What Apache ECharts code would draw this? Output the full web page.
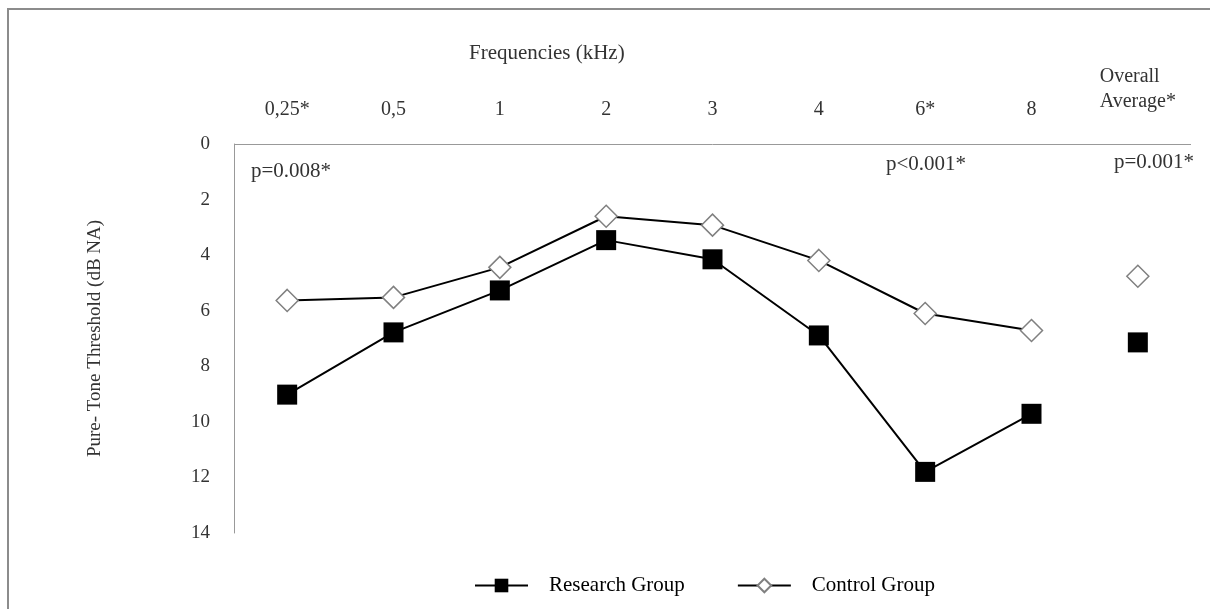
<!DOCTYPE html>
<html><head><meta charset="utf-8">
<script src="https://cdn.jsdelivr.net/npm/echarts@6/dist/echarts.min.js"></script>
<style>html,body{margin:0;padding:0;background:#fff}#c{width:1210px;height:609px}</style>
</head><body><div id="c"></div>
<script>
var categories = ['0,25*', '0,5', '1', '2', '3', '4', '6*', '8', 'Overall\nAverage*'];
var researchFreq = [9.02, 6.78, 5.27, 3.46, 4.15, 6.89, 11.8, 9.71];
var controlFreq  = [5.63, 5.52, 4.44, 2.60, 2.92, 4.19, 6.10, 6.71];
var researchOverall = 7.14;
var controlOverall = 4.76;
var yTicks = [0, 2, 4, 6, 8, 10, 12, 14];

var FONT = 'Liberation Serif';
var overallIdx = categories.length - 1;
function overallData(v){ var a = []; for (var i=0;i<overallIdx;i++) a.push(null); a.push(v); return a; }

var chart = echarts.init(document.getElementById('c'));
chart.setOption({
  animation: false,
  backgroundColor: '#fff',
  textStyle: { fontFamily: FONT },
  grid: { left: 234, right: 19, top: 144, bottom: 76, containLabel: false },
  xAxis: {
    type: 'category', position: 'top', data: categories, boundaryGap: true,
    axisLine: { show: false },
    axisTick: { show: false },
    axisLabel: {
      color: '#333', fontSize: 20, fontFamily: FONT, margin: 24, interval: 0,
      formatter: function (v, i) { return i === overallIdx ? '{ov|' + v + '}' : v; },
      rich: { ov: { fontSize: 20, fontFamily: FONT, color: '#333', lineHeight: 25, padding: [0, 0, 12, 0], align: 'left' } }
    }
  },
  yAxis: {
    type: 'value', inverse: true, min: yTicks[0], max: yTicks[yTicks.length-1], interval: 2,
    name: 'Pure- Tone Threshold (dB NA)', nameLocation: 'middle', nameGap: 129,
    nameTextStyle: { color: '#333', fontSize: 19, fontFamily: FONT },
    axisLine: { show: true, lineStyle: { color: '#999', width: 1 } },
    axisTick: { show: false },
    splitLine: { show: false },
    axisLabel: { color: '#333', fontSize: 19, fontFamily: FONT, margin: 24 }
  },
  legend: {
    bottom: 8, left: 469, itemWidth: 53, itemHeight: 17, itemGap: 52,
    textStyle: { color: '#000', fontSize: 21, fontFamily: FONT, padding: [0, 0, 0, 16] },
    data: ['Research Group', 'Control Group']
  },
  title: {
    text: 'Frequencies (kHz)', left: 464, top: 38,
    textStyle: { color: '#333', fontSize: 21, fontWeight: 'normal', fontFamily: FONT }
  },
  graphic: [
    { type: 'rect', shape: { x: 8, y: 9, width: 1400, height: 800 }, style: { fill: 'none', stroke: '#8c8c8c', lineWidth: 2 }, z: 100 },
    { type: 'text', left: 251, top: 161, style: { text: 'p=0.008*', fontSize: 21, fontFamily: FONT, fill: '#333' } },
    { type: 'text', left: 886, top: 154, style: { text: 'p<0.001*', fontSize: 21, fontFamily: FONT, fill: '#333' } },
    { type: 'text', left: 1114, top: 152, style: { text: 'p=0.001*', fontSize: 21, fontFamily: FONT, fill: '#333' } }
  ],
  series: [
    {
      name: 'Research Group', type: 'line', data: researchFreq, z: 3,
      symbol: 'rect', symbolSize: 20,
      lineStyle: { color: '#000', width: 2 },
      itemStyle: { color: '#000', borderColor: '#000', borderWidth: 0 },
      markLine: {
        silent: true, symbol: 'none', label: { show: false },
        lineStyle: { color: '#999', width: 1, type: 'solid' },
        data: [[{ coord: [0, 0], x: 234 }, { coord: [overallIdx, 0], x: 1191 }]]
      }
    },
    {
      name: 'Control Group', type: 'line', data: controlFreq, z: 2,
      symbol: 'diamond', symbolSize: [22, 22],
      lineStyle: { color: '#000', width: 2 },
      itemStyle: { color: '#fff', borderColor: '#808080', borderWidth: 1.5 }
    },
    {
      name: 'Research Overall', type: 'scatter', data: overallData(researchOverall),
      symbol: 'rect', symbolSize: 20, itemStyle: { color: '#000', opacity: 1 }
    },
    {
      name: 'Control Overall', type: 'scatter', data: overallData(controlOverall),
      symbol: 'diamond', symbolSize: 22, itemStyle: { color: '#fff', borderColor: '#808080', borderWidth: 1.5, opacity: 1 }
    }
  ]
});
</script></body></html>
